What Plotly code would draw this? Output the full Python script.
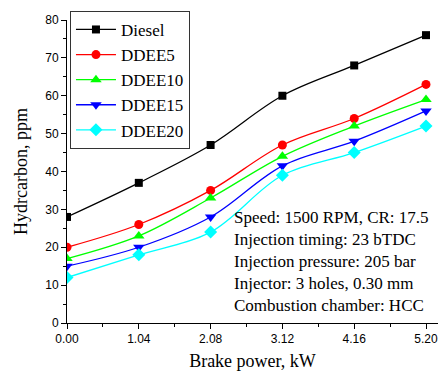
import plotly.graph_objects as go

# Brake power levels (kW)
brake_power = [0.00, 1.04, 2.08, 3.12, 4.16, 5.20]

# Hydrocarbon emissions (ppm) per fuel blend
diesel = [28, 37, 47, 60, 68, 76]
ddee5 = [20, 26, 35, 47, 54, 63]
ddee10 = [17, 23, 33, 44, 52, 59]
ddee15 = [15, 20, 28, 41.5, 48, 56]
ddee20 = [12, 18, 24, 39, 45, 52]

series = [
    ("Diesel", diesel, "#000000", "square", 8),
    ("DDEE5", ddee5, "#FF0000", "circle", 9),
    ("DDEE10", ddee10, "#00FF00", "triangle-up", 10),
    ("DDEE15", ddee15, "#0000FF", "triangle-down", 10),
    ("DDEE20", ddee20, "#00FFFF", "diamond", 10),
]

W, H = 438, 372
ML, MR, MT, MB = 67, 0, 20, 49

fig = go.Figure()
for name, vals, color, symbol, size in series:
    fig.add_trace(go.Scatter(
        x=brake_power, y=vals, name=name, mode="lines+markers",
        line=dict(color=color, width=1.3, shape="spline", smoothing=1.0),
        marker=dict(symbol=symbol, size=size, color=color, line=dict(width=0)),
    ))

serif = "Liberation Serif, Times New Roman, serif"
sans = "Liberation Sans, Arial, sans-serif"

# x scale: 5.20 sits a little inside the right edge, axis runs off the page
x_max = 5.20 * (W - ML) / (426 - ML)

fig.update_layout(
    width=W, height=H,
    margin=dict(l=ML, r=MR, t=MT, b=MB),
    paper_bgcolor="white", plot_bgcolor="white",
    showlegend=True,
    legend=dict(
        x=0.008, y=1.03, xanchor="left", yanchor="top",
        bgcolor="white", bordercolor="#333333", borderwidth=1,
        font=dict(family=serif, size=17, color="black"),
        tracegroupgap=0, itemwidth=40,
    ),
    xaxis=dict(
        range=[0, x_max], tickvals=brake_power,
        ticktext=[f"{v:.2f}" for v in brake_power],
        ticklabeloverflow="allow",
        showgrid=False, zeroline=False,
        showline=True, linecolor="black", linewidth=1,
        ticks="outside", ticklen=5, tickcolor="black", tickwidth=1,
        minor=dict(tickvals=[0.52, 1.56, 2.60, 3.64, 4.68], ticks="outside",
                   ticklen=3, tickcolor="black", tickwidth=1),
        tickfont=dict(family=sans, size=12, color="black"),
        title=dict(text="Brake power, kW", font=dict(family=serif, size=18, color="black"),
                   standoff=8),
    ),
    yaxis=dict(
        range=[0, 80], tickvals=list(range(0, 81, 10)),
        showgrid=False, zeroline=False,
        showline=True, linecolor="black", linewidth=1,
        ticks="outside", ticklen=5, tickcolor="black", tickwidth=1,
        minor=dict(tickvals=list(range(5, 80, 10)), ticks="outside",
                   ticklen=3, tickcolor="black", tickwidth=1),
        tickfont=dict(family=sans, size=12, color="black"),
        title=dict(text="Hydrcarbon, ppm", font=dict(family=serif, size=18, color="black"),
                   standoff=12),
    ),
)

fig.add_annotation(
    xref="paper", yref="paper",
    x=(232 - ML) / (W - ML - MR), y=(H - MB - 206) / (H - MT - MB),
    xanchor="left", yanchor="top", align="left", showarrow=False,
    text=("Speed: 1500 RPM, CR: 17.5<br>Injection timing: 23 bTDC<br>"
          "Injection pressure: 205 bar<br>Injector: 3 holes, 0.30 mm<br>"
          "Combustion chamber: HCC"),
    font=dict(family=serif, size=17, color="black"),
)

fig.write_html("out.html")
